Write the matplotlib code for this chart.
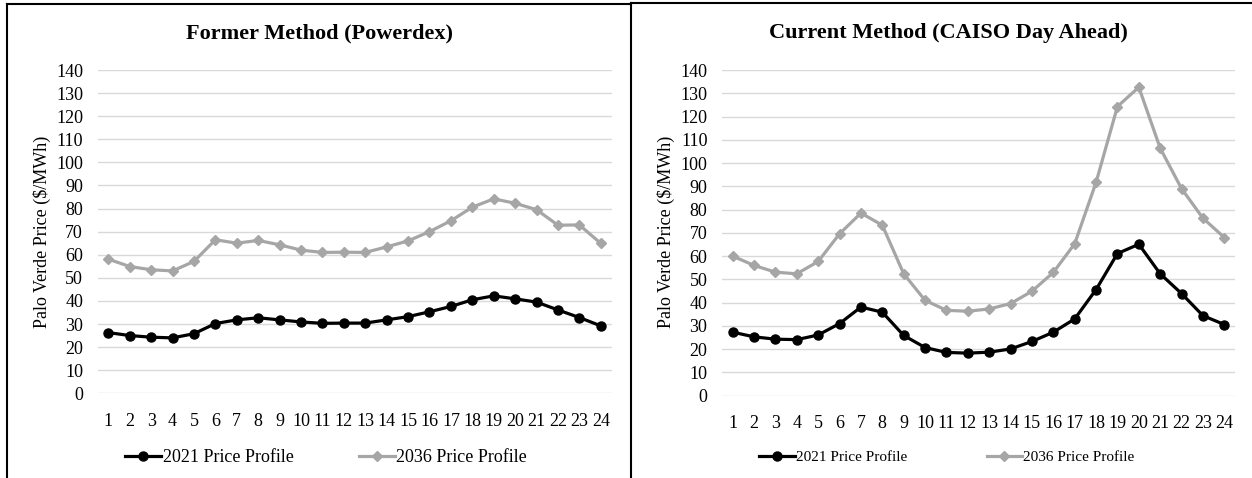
import matplotlib
matplotlib.use("Agg")
import matplotlib.pyplot as plt
from matplotlib.lines import Line2D

hours = list(range(1, 25))
former_2021 = [26.3, 25.0, 24.3, 24.0, 25.8, 30.2, 31.8, 32.7, 31.8, 30.9, 30.3, 30.4,
               30.4, 31.8, 33.2, 35.3, 37.6, 40.5, 42.2, 40.9, 39.5, 36.1, 32.8, 29.2]
former_2036 = [58.1, 54.9, 53.5, 53.0, 57.1, 66.5, 65.0, 66.2, 64.3, 62.0, 61.0, 61.1,
               61.0, 63.4, 66.0, 70.0, 74.7, 80.6, 84.2, 82.3, 79.5, 72.8, 72.9, 64.9]
current_2021 = [27.3, 25.3, 24.3, 24.1, 26.1, 31.0, 38.1, 35.9, 25.9, 20.7, 18.6, 18.3,
                18.7, 20.1, 23.3, 27.3, 33.0, 45.6, 61.1, 65.1, 52.4, 43.9, 34.4, 30.6]
current_2036 = [60.0, 56.0, 53.1, 52.4, 57.7, 69.6, 78.5, 73.3, 52.4, 41.0, 36.7, 36.3,
                37.3, 39.6, 44.9, 53.0, 65.3, 91.7, 124.3, 132.6, 106.4, 89.0, 76.3, 68.0]
titles = ["Former Method (Powerdex)", "Current Method (CAISO Day Ahead)"]
ylabel = "Palo Verde Price ($/MWh)"
series_names = ["2021 Price Profile", "2036 Price Profile"]
yticks = list(range(0, 150, 10))

plt.rcParams['font.family'] = ['Liberation Serif', 'DejaVu Serif']

W, H = 1252, 478
fig = plt.figure(figsize=(W / 100, H / 100), dpi=100)

BLACK = "#000000"
GRAY = "#A6A6A6"
GRID = "#D9D9D9"

def px(x0, y0, x1, y1):
    return [x0 / W, 1 - y1 / H, (x1 - x0) / W, (y1 - y0) / H]

panels = [
    dict(rect=px(97.6, 70, 611.5, 393.3), d21=former_2021, d36=former_2036,
         title_x=319, ylab_x=42, leg_x=326, leg_y=458, leg_fs=13, colsp=3.6, hl=2.0),
    dict(rect=px(722, 70, 1235, 395.7), d21=current_2021, d36=current_2036,
         title_x=948, ylab_x=666, leg_x=947, leg_y=457, leg_fs=11, colsp=5.2, hl=2.3),
]

for i, p in enumerate(panels):
    ax = fig.add_axes(p["rect"])
    ax.set_xlim(0.5, 24.5)
    ax.set_ylim(0, 140)
    ax.set_yticks(yticks)
    ax.set_xticks(hours)
    ax.set_xticklabels([str(h) for h in hours])
    ax.yaxis.grid(True, color=GRID, linewidth=1.0)
    ax.set_axisbelow(True)
    for s in ax.spines.values():
        s.set_visible(False)
    ax.tick_params(axis="both", length=0, labelsize=13, colors="#000000")
    ax.tick_params(axis="y", pad=10.5)
    ax.tick_params(axis="x", pad=14)
    l1, = ax.plot(hours, p["d21"], color=BLACK, lw=2.3, marker="o", ms=6.5,
                  label=series_names[0], zorder=3, clip_on=False)
    l2, = ax.plot(hours, p["d36"], color=GRAY, lw=2.3, marker="D", ms=5.0,
                  label=series_names[1], zorder=2, clip_on=False)
    fig.text(p["title_x"] / W, 1 - 33 / H, titles[i], ha="center", va="center",
             fontsize=16, fontweight="bold")
    fig.text(p["ylab_x"] / W, 1 - 232 / H, ylabel, ha="center", va="center",
             rotation=90, fontsize=13)
    fig.legend(handles=[l1, l2], loc="center",
               bbox_to_anchor=(p["leg_x"] / W, 1 - p["leg_y"] / H),
               ncol=2, frameon=False, fontsize=p["leg_fs"], handlelength=p["hl"],
               handletextpad=0.1, columnspacing=p["colsp"], borderpad=0)

# table-like frame lines
frame_kw = dict(color="#000000", lw=1.5, transform=fig.transFigure)
fig.add_artist(Line2D([7 / W, 631 / W], [1 - 4 / H, 1 - 4 / H], **frame_kw))
fig.add_artist(Line2D([631 / W, 1.0], [1 - 3 / H, 1 - 3 / H], **frame_kw))
fig.add_artist(Line2D([7 / W, 7 / W], [0, 1 - 4 / H], **frame_kw))
fig.add_artist(Line2D([630.5 / W, 630.5 / W], [0, 1 - 3 / H], **frame_kw))

fig.savefig("out.png", dpi=100)
